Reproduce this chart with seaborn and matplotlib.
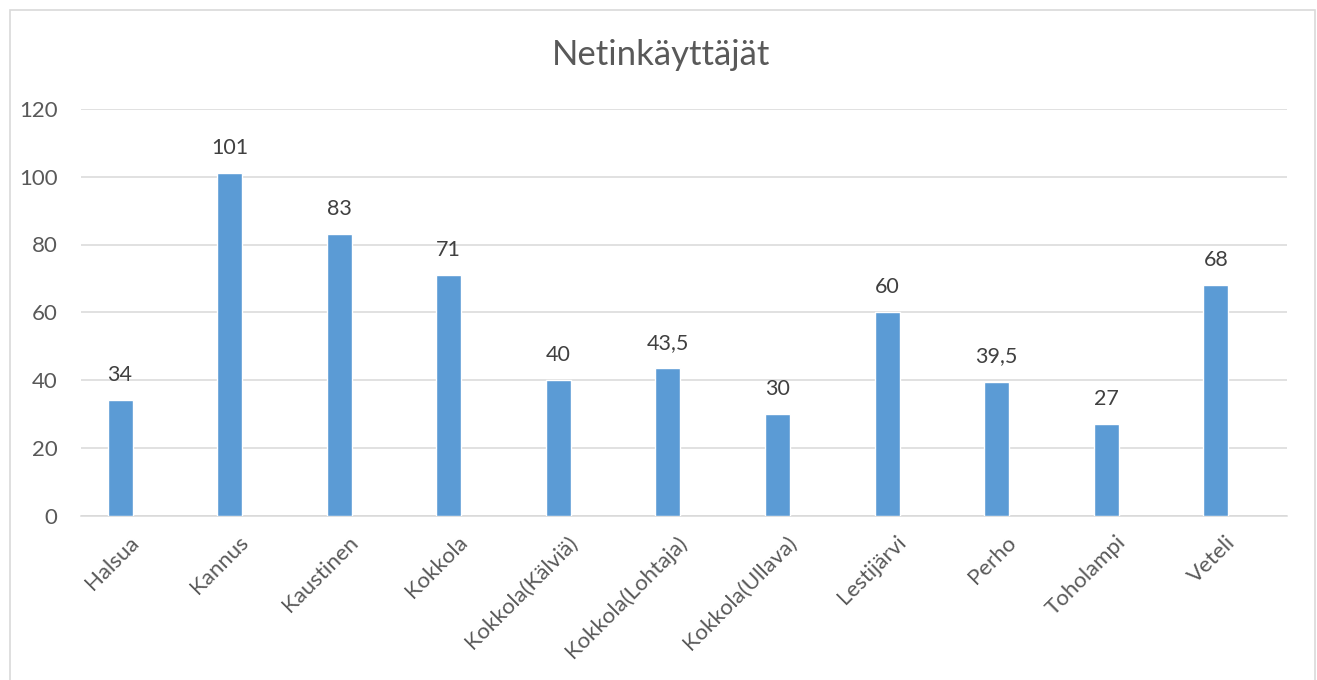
import matplotlib
matplotlib.use("Agg")
import matplotlib.pyplot as plt
import matplotlib.transforms as mtransforms
import seaborn as sns
import pandas as pd
from matplotlib.patches import Rectangle

categories = ["Halsua", "Kannus", "Kaustinen", "Kokkola", "Kokkola(Kälviä)",
              "Kokkola(Lohtaja)", "Kokkola(Ullava)", "Lestijärvi", "Perho",
              "Toholampi", "Veteli"]
values = [34, 101, 83, 71, 40, 43.5, 30, 60, 39.5, 27, 68]
y_ticks = [0, 20, 40, 60, 80, 100, 120]
title = "Netinkäyttäjät"

sns.set_theme(style="white")
plt.rcParams["font.family"] = ["Lato", "DejaVu Sans"]

df = pd.DataFrame({"cat": categories, "val": values})

fig = plt.figure(figsize=(13.17, 6.8), dpi=100)
ax = fig.add_axes([81 / 1317, 1 - 515.5 / 680, (1287 - 81) / 1317, (515.5 - 109) / 680])

sns.barplot(data=df, x="cat", y="val", color="#5B9BD5", saturation=1,
            width=0.228, ax=ax, zorder=3)

ax.set_ylim(0, 120)
ax.set_xlim(-0.356, 10.65)
ax.set_yticks(y_ticks)
ax.set_yticklabels([str(t) for t in y_ticks])
ax.grid(axis="y", color="#d9d9d9", linewidth=1.1, zorder=0)
for s in ["top", "right", "left"]:
    ax.spines[s].set_visible(False)
ax.spines["bottom"].set_color("#d9d9d9")
ax.spines["bottom"].set_linewidth(1.1)
ax.set_xlabel("")
ax.set_ylabel("")
ax.tick_params(axis="y", length=0, pad=17, labelsize=16, labelcolor="#595959")
ax.tick_params(axis="x", length=0, pad=12, labelsize=16, labelcolor="#595959")
offset = mtransforms.ScaledTranslation(9 / 100, 0, fig.dpi_scale_trans)
for lab in ax.get_xticklabels():
    lab.set_rotation(45)
    lab.set_ha("right")
    lab.set_va("top")
    lab.set_rotation_mode("anchor")
    lab.set_transform(lab.get_transform() + offset)

labels = [f"{v:g}".replace(".", ",") for v in values]
ax.bar_label(ax.containers[0], labels=labels, padding=11, fontsize=15.5, color="#404040")

fig.text(661 / 1317, 1 - 55 / 680, title, ha="center", va="center",
         fontsize=25, color="#595959")

fig.patches.append(Rectangle((10 / 1317, -0.01), (1315 - 10) / 1317, 1 - 10 / 680 + 0.01,
                             transform=fig.transFigure, fill=False,
                             edgecolor="#d9d9d9", linewidth=1.2))

fig.savefig("out.png", dpi=100)
